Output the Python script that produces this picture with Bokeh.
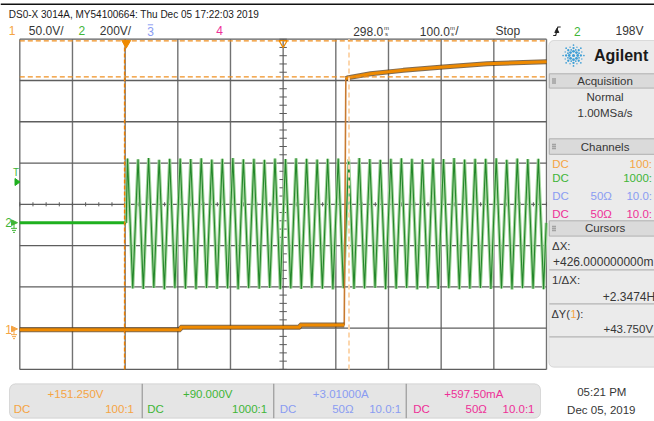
import numpy as np
from bokeh.plotting import figure
from bokeh.models import Range1d, BoxAnnotation
from bokeh.core.properties import value
from bokeh.embed import file_html
from bokeh.resources import INLINE

# ---------------- data ----------------
time_per_div = 100.0          # ms/div
delay_ms = 298.0              # time at screen centre
ch1_scale, ch1_offset = 50.0, 151.25   # V/div, V
ch2_scale, ch2_offset = 200.0, 90.0    # V/div, V
trigger_level = 198.0         # V on channel 2

# channel 1 (orange)
ch1_t = [-202, 103, 103, 330, 330, 414, 417, 422, 464, 526, 602, 685, 798]
ch1_v = [-0.7, -0.7, 2.4, 2.4, 5.0, 5.0, 303.5, 304.7, 309.5, 313.5, 317.6, 321.6, 324.0]
ch1_edge_index = 6

# channel 2 (green): flat before trigger, then a 50 Hz mains waveform
ch2_pre_t = [-202, 0]
ch2_pre_v = [0.0, 0.0]
ch2_first_peak_ms = 2.5
ch2_period_ms = 20.0
ch2_peaks = [312, 308, 314, 306, 310, 312, 309, 313, 307, 311,
             314, 308, 310, 306, 312, 309, 313, 311, 307, 310,
             312, 308, 314, 309, 306, 311, 313, 310, 308, 312,
             309, 314, 307, 311, 310, 313, 306, 312, 309, 311]
ch2_troughs = [-318, -320, -315, -322, -317, -319, -321, -316, -320, -318,
               -322, -317, -319, -315, -321, -318, -320, -316, -319, -322,
               -317, -320, -318, -315, -321, -319, -316, -322, -318, -320,
               -317, -321, -319, -316, -320, -318, -322, -317, -319, -321]

cursor_x = [-3.0, 423.0]       # ms
cursor_y = [305.5, 349.25]     # V (channel 1)

header_text = "DS0-X 3014A, MY54100664: Thu Dec 05 17:22:03 2019"
bottom_values = ["+151.250V", "+90.000V", "+3.01000A", "+597.50mA"]
bottom_ratio = ["100:1", "1000:1", "10.0:1", "10.0:1"]

# ---------------- layout (reference-pixel coordinates) ----------------
X0, X1, Y0, Y1 = 0, 654, 0, 421
GL, GR, GT, GB = 19.3, 546.0, 38.7, 368.9
DX = (GR - GL) / 10
DY = (GB - GT) / 8
GCY = (GT + GB) / 2

dxs, dxe = (X0 - GL) / DX, (X1 - GL) / DX
dys, dye = (GCY - Y1) / DY, (GCY - Y0) / DY
t_left = delay_ms - 5 * time_per_div

p = figure(width=654, height=421, x_range=Range1d(X0, X1), y_range=Range1d(Y1, Y0),
           x_axis_location=None, y_axis_location=None, min_border=0,
           toolbar_location=None, output_backend="svg")
p.grid.visible = False
p.outline_line_color = None
p.background_fill_color = "white"
p.border_fill_color = "white"

p.extra_x_ranges = {
    "div": Range1d(dxs, dxe),
    "t": Range1d(t_left + dxs * time_per_div, t_left + dxe * time_per_div),
}
p.extra_y_ranges = {
    "dv": Range1d(dys, dye),
    "ch1": Range1d(ch1_offset + dys * ch1_scale, ch1_offset + dye * ch1_scale),
    "ch2": Range1d(ch2_offset + dys * ch2_scale, ch2_offset + dye * ch2_scale),
}

FONT = "Liberation Sans"
C1, C1T = "#ef8a00", "#f5a443"
C2D, C2L, C2B, C2T = "#23862a", "#a3d69c", "#1fb01f", "#41b537"
C3T, C4T = "#8a9cf2", "#ee2f97"
GRAY = "#363636"


def txt(x, y, s, color=GRAY, size="12px", align="left", font=FONT, style="normal"):
    p.text(x=[x], y=[y], text=[s], text_color=color, text_font_size=size,
           text_align=align, text_baseline="middle", text_font=value(font),
           text_font_style=style)


# ---------------- panels (underlay) ----------------
p.add_layout(BoxAnnotation(left=548.3, right=672, top=40, bottom=366.7, fill_color="#ebebeb",
                           fill_alpha=1, line_color="#9c9c9c", line_width=1, border_radius=5,
                           level="underlay"))
p.add_layout(BoxAnnotation(left=9, right=540, top=383.3, bottom=417.7, fill_color="#e5e5e5",
                           fill_alpha=1, line_color="#9a9a9a", line_width=1, border_radius=6,
                           level="underlay"))

# top rule of the screenshot
p.segment(x0=[0], x1=[654], y0=[3.8], y1=[3.8], line_color="#111111", line_width=1.5)

# ---------------- graticule ----------------
gx = list(range(0, 11))
gy = list(range(-4, 5))
p.segment(x0=gx, x1=gx, y0=-4, y1=4, x_range_name="div", y_range_name="dv",
          line_color="#727272", line_width=1.4)
p.segment(x0=0, x1=10, y0=gy, y1=gy, x_range_name="div", y_range_name="dv",
          line_color="#5e5e5e", line_width=1.3)
mx = np.arange(0, 10.001, 0.25)
p.segment(x0=mx, x1=mx, y0=-0.05, y1=0.05, x_range_name="div", y_range_name="dv",
          line_color="#5a5a5a", line_width=1)
my = np.arange(-4, 4.001, 0.2)
p.segment(x0=4.93, x1=5.07, y0=my, y1=my, x_range_name="div", y_range_name="dv",
          line_color="#5a5a5a", line_width=1)

# ---------------- traces ----------------
p.line(ch2_pre_t, ch2_pre_v, x_range_name="t", y_range_name="ch2", line_color=C2B, line_width=3)
g_t, g_v = [0.0], [0.0]
for k in range(len(ch2_peaks)):
    b = ch2_first_peak_ms + k * ch2_period_ms
    g_t += [b, b + ch2_period_ms / 4, b + ch2_period_ms / 2, b + 3 * ch2_period_ms / 4]
    g_v += [ch2_peaks[k], 0.0, ch2_troughs[k], 0.0]
p.line(g_t, g_v, x_range_name="t", y_range_name="ch2", line_color=C2L, line_width=3.2)
p.line(g_t, g_v, x_range_name="t", y_range_name="ch2", line_color=C2D, line_width=1.1)

p.line(ch1_t, ch1_v, x_range_name="t", y_range_name="ch1", line_color="#c87a30", line_width=1.6)
for a, b in [(0, ch1_edge_index), (ch1_edge_index, len(ch1_t))]:
    p.line(ch1_t[a:b], ch1_v[a:b], x_range_name="t", y_range_name="ch1",
           line_color="#4a2c08", line_alpha=0.7, line_width=5)
    p.line(ch1_t[a:b], ch1_v[a:b], x_range_name="t", y_range_name="ch1",
           line_color=C1, line_width=3)

# ---------------- cursors ----------------
p.segment(x0=[cursor_x[0]], x1=[cursor_x[0]], y0=[-4], y1=[4], x_range_name="t",
          y_range_name="dv", line_color="#ee8000", line_width=1.5, line_dash="4 2")
p.segment(x0=[cursor_x[1]], x1=[cursor_x[1]], y0=[-4], y1=[4], x_range_name="t",
          y_range_name="dv", line_color="#fcd6ad", line_width=2, line_dash="5 3")
p.segment(x0=[0, 0], x1=[10, 10], y0=cursor_y, y1=cursor_y, x_range_name="div",
          y_range_name="ch1", line_color="#f09020", line_width=1.3, line_dash="5 3")

# trigger point and time reference markers on the top edge
p.scatter(x=[0], y=[42.5], x_range_name="t", marker="inverted_triangle", size=9,
          fill_color=C1, line_color=C1)
p.scatter(x=[delay_ms], y=[42.5], x_range_name="t", marker="inverted_triangle", size=8,
          fill_alpha=0, line_color=C1, line_width=1.2)


# ---------------- left markers ----------------
def ch_y(v, off, sc):
    return GCY - (v - off) / sc * DY


def ground_marker(yc, color, label):
    txt(8.2, yc, label, color, "12px", "center")
    p.patch([11, 11, 17], [yc - 3, yc + 2.6, yc - 0.2], fill_color=color, line_color=color)
    p.line([13.5, 13.5], [yc, yc + 5.5], line_color=color, line_width=1)
    p.multi_line([[10.5, 16.5], [11.5, 15.5], [12.5, 14.5]],
                 [[yc + 5.5] * 2, [yc + 7.5] * 2, [yc + 9.5] * 2], line_color=color, line_width=1)


ground_marker(ch_y(0, ch2_offset, ch2_scale), C2T, "2")
ground_marker(ch_y(0, ch1_offset, ch1_scale), C1T, "1")
ty = ch_y(trigger_level, ch2_offset, ch2_scale)
txt(15.5, ty - 10, "T", C2T, "10px", "center")
p.patch([14.5, 14.5, 19.5], [ty - 3.5, ty + 3.5, ty], fill_color=C2B, line_color=C2B)

# ---------------- header ----------------
txt(8.3, 13.9, header_text, "#1a1a1a", "10px")
txt(11.7, 30, "1", C1T, "12px", "center")
txt(28.3, 30, "50.0V/")
txt(81.3, 30, "2", C2T, "12px", "center")
txt(99.3, 30, "200V/")
txt(150, 30.5, "3", C3T, "12px", "center")
p.line([147.3, 152.7], [24.3, 24.3], line_color=C3T, line_width=1)
txt(219, 30, "4", C4T, "12px", "center")
txt(352.7, 30.5, "298.0")
txt(386, 27.6, "m", GRAY, "6px", "center")
txt(386, 33.4, "s", GRAY, "6px", "center")
txt(419.3, 30.5, "100.0")
txt(452, 27.6, "m", GRAY, "6px", "center")
txt(452, 33.4, "s", GRAY, "6px", "center")
txt(454.8, 30.5, "/")
txt(495, 30.5, "Stop")
p.line([552.7, 555.2, 557.3, 560.2], [35, 35, 26.5, 26.5], line_color="#222222", line_width=1.1)
p.patch([554.3, 558.3, 556.3], [32, 32, 28], fill_color="#222222", line_color="#222222")
txt(576.8, 30.5, "2", C2T, "12px", "center")
txt(615, 30.5, "198V")

# ---------------- right panel ----------------
ang = np.deg2rad(np.arange(0, 360, 45))
lx, ly, ls = [573.0], [55.0], [3.2]
for r, s in [(4.2, 2.8), (7.4, 2.3), (10.4, 1.7)]:
    lx += list(573 + r * np.cos(ang)); ly += list(55 + r * np.sin(ang)); ls += [s] * 8
ang2 = ang + np.deg2rad(22.5)
for r, s in [(6.0, 1.8), (9.0, 1.4)]:
    lx += list(573 + r * np.cos(ang2)); ly += list(55 + r * np.sin(ang2)); ls += [s] * 8
p.scatter(x=lx, y=ly, size=ls, marker="circle", fill_color="#3f9fd6", line_color=None)
txt(593.5, 55, "Agilent", "#1a1a1a", "16px", style="bold")

for top, bot, label in [(73.3, 87.6, "Acquisition"), (138.3, 153.8, "Channels"), (220.3, 235.6, "Cursors")]:
    p.quad(left=[548.8], right=[672], top=[top], bottom=[bot], fill_color="#dadada",
           line_color="#b0b0b0", line_width=1)
    txt(604.6, (top + bot) / 2, label, GRAY, "11.5px", "center")
    p.scatter(x=[552.5, 554.5] * 3, y=[(top + bot) / 2 - 2] * 2 + [(top + bot) / 2] * 2 + [(top + bot) / 2 + 2] * 2,
              marker="square", size=1.4, fill_color="#8a8a8a", line_color=None)

txt(604.6, 96.7, "Normal", GRAY, "11.5px", "center")
txt(604.6, 112.7, "1.00MSa/s", GRAY, "11.5px", "center")
rows = [(163.3, C1T, "", "100:"), (177.8, C2T, "", "1000:"),
        (195.5, C3T, "50\u03a9", "10.0:"), (213.3, C4T, "50\u03a9", "10.0:")]
for yy, col, mid, right in rows:
    txt(551.7, yy, "DC", col, "11.5px")
    if mid:
        txt(590, yy, mid, col, "11.5px")
    txt(651.5, yy, right, col, "11.5px", "right")

txt(551.5, 245, "\u0394X:", GRAY, "11.5px")
txt(552.5, 261.7, "+426.000000000m", GRAY, "12px")
txt(551.5, 279, "1/\u0394X:", GRAY, "11.5px")
txt(602.3, 296, "+2.3474H", GRAY, "12px")
txt(551, 313.3, "\u0394Y(", GRAY, "11px")
txt(570, 313.3, "1", C1T, "11px")
txt(576, 313.3, "):", GRAY, "11px")
txt(603, 328.3, "+43.750V", GRAY, "11.5px")
p.segment(x0=548.8, x1=672, y0=[269.3, 303.3, 336.3], y1=[269.3, 303.3, 336.3],
          line_color="#b4b4b4", line_width=1.2)

# ---------------- bottom bar ----------------
p.segment(x0=[141.7, 273.3, 405.7], x1=[141.7, 273.3, 405.7], y0=383.3, y1=417.7,
          line_color="#8a8a8a", line_width=1)
cells = [(75.0, 13.3, None, 133.5, C1T), (207.2, 146.7, None, 266.7, C2T),
         (340.3, 279.3, 331.7, 400.7, C3T), (473.3, 412.7, 465.0, 534.0, C4T)]
for i, (cx, dcx, ohm_x, rx, col) in enumerate(cells):
    txt(cx, 393.3, bottom_values[i], col, "11.5px", "center")
    txt(dcx, 408.7, "DC", col, "11.5px")
    if ohm_x is not None:
        txt(ohm_x, 408.7, "50\u03a9", col, "11.5px")
    txt(rx, 408.7, bottom_ratio[i], col, "11.5px", "right")

txt(601.3, 391.7, "05:21 PM", GRAY, "11.5px", "center")
txt(600.8, 409.3, "Dec 05, 2019", GRAY, "11.5px", "center")

open("out.html", "w").write(file_html(p, INLINE))
